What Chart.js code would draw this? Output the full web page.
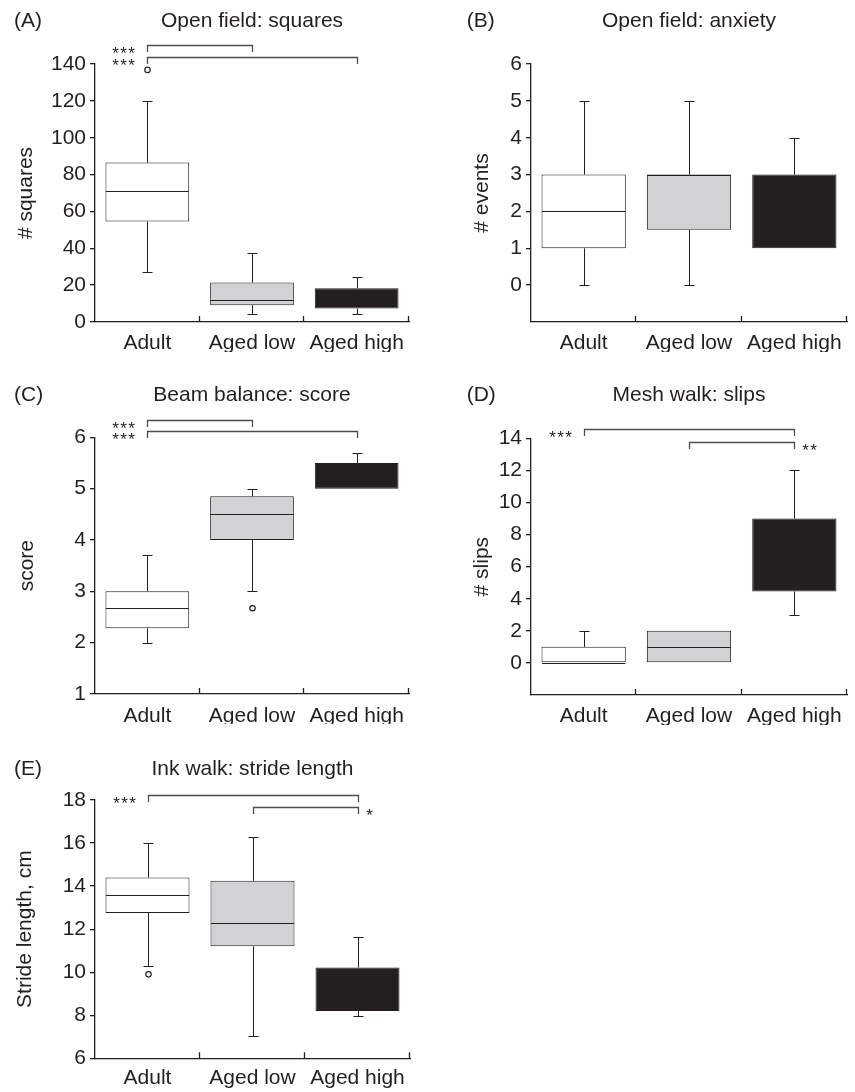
<!DOCTYPE html>
<html>
<head>
<meta charset="utf-8">
<script src="https://cdn.jsdelivr.net/npm/chart.js@4.4.1/dist/chart.umd.min.js"></script>
<style>
html,body{margin:0;padding:0;background:#ffffff;}
#wrap{position:relative;width:855px;height:1092px;overflow:hidden;background:#fff;}
canvas{position:absolute;}
</style>
</head>
<body>
<div id="wrap">
<canvas id="cA" width="427" height="360" style="left:0;top:0;width:427px;height:360px"></canvas>
<canvas id="cB" width="428" height="360" style="left:427px;top:0;width:428px;height:360px"></canvas>
<canvas id="cC" width="427" height="370" style="left:0;top:360px;width:427px;height:370px"></canvas>
<canvas id="cD" width="428" height="370" style="left:427px;top:360px;width:428px;height:370px"></canvas>
<canvas id="cE" width="427" height="362" style="left:0;top:730px;width:427px;height:362px"></canvas>
</div>
<script>
// ---------------- DATA ----------------
const categories = ['Adult', 'Aged low', 'Aged high'];

// (A) Open field: squares
const squaresMin     = [27, 4.2, 4.2];
const squaresQ1      = [54.5, 9.1, 7.3];
const squaresMedian  = [71.3, 11.8, 12];
const squaresQ3      = [86.5, 21.4, 18.3];
const squaresMax     = [120, 37.3, 24.3];
const squaresOutliers = [[136.8], [], []];
const squaresTicks   = [0, 20, 40, 60, 80, 100, 120, 140];
const squaresSig     = [{from: 0, to: 1, level: 150.3, label: '***', side: 'left'},
                        {from: 0, to: 2, level: 144.0, label: '***', side: 'left'}];

// (B) Open field: anxiety
const eventsMin     = [0, 0, 1];
const eventsQ1      = [1, 1.5, 1];
const eventsMedian  = [2, 3, 3];
const eventsQ3      = [3, 3, 3];
const eventsMax     = [5, 5, 4];
const eventsOutliers = [[], [], []];
const eventsTicks   = [0, 1, 2, 3, 4, 5, 6];
const eventsSig     = [];

// (C) Beam balance: score
const scoreMin     = [2, 3, 5];
const scoreQ1      = [2.28, 4, 5];
const scoreMedian  = [2.67, 4.5, 5];
const scoreQ3      = [3, 4.85, 5.5];
const scoreMax     = [3.7, 5, 5.7];
const scoreOutliers = [[], [2.67], []];
const scoreTicks   = [1, 2, 3, 4, 5, 6];
const scoreSig     = [{from: 0, to: 1, level: 6.34, label: '***', side: 'left'},
                      {from: 0, to: 2, level: 6.13, label: '***', side: 'left'}];

// (D) Mesh walk: slips
const slipsMin     = [0, 0, 3];
const slipsQ1      = [0, 0, 4.45];
const slipsMedian  = [0, 1, 6];
const slipsQ3      = [1, 2, 9];
const slipsMax     = [2, 2, 12];
const slipsOutliers = [[], [], []];
const slipsTicks   = [0, 2, 4, 6, 8, 10, 12, 14];
const slipsSig     = [{from: 0, to: 2, level: 14.56, label: '***', side: 'left'},
                      {from: 1, to: 2, level: 13.79, label: '**', side: 'right'}];

// (E) Ink walk: stride length
const strideMin     = [10.3, 7.05, 7.95];
const strideQ1      = [12.75, 11.2, 8.2];
const strideMedian  = [13.6, 12.3, 9];
const strideQ3      = [14.4, 14.25, 10.22];
const strideMax     = [16.0, 16.27, 11.62];
const strideOutliers = [[9.9], [], []];
const strideTicks   = [6, 8, 10, 12, 14, 16, 18];
const strideSig     = [{from: 0, to: 2, level: 18.23, label: '***', side: 'left'},
                       {from: 1, to: 2, level: 17.69, label: '*', side: 'right'}];

// ---------------- STYLE ----------------
const FONT = '"Liberation Sans", Arial, Helvetica, sans-serif';
const FS = 21;
const INK = '#231f20';
const BRACKET = '#4d4d4f';
const boxFills = ['#ffffff', '#d1d2d4', '#231f20'];

Chart.defaults.font.family = FONT;
Chart.defaults.font.size = FS;
Chart.defaults.color = INK;

const panels = [
  {canvas: 'cA', tag: '(A)', title: 'Open field: squares', yTitle: '# squares',
   min: squaresMin, q1: squaresQ1, med: squaresMedian, q3: squaresQ3, max: squaresMax, out: squaresOutliers,
   ticks: squaresTicks, sig: squaresSig, yMin: 0, yMax: 140,
   area: {left: 95, right: 409, top: 64, bottom: 322}, W: 427, H: 360,
   tagX: 14, textBase: 26.7, yTitlePad: 13.4, xPad: 9},
  {canvas: 'cB', tag: '(B)', title: 'Open field: anxiety', yTitle: '# events',
   min: eventsMin, q1: eventsQ1, med: eventsMedian, q3: eventsQ3, max: eventsMax, out: eventsOutliers,
   ticks: eventsTicks, sig: eventsSig, yMin: -1, yMax: 6,
   area: {left: 104, right: 420, top: 64, bottom: 322}, W: 428, H: 360,
   tagX: 39.7, textBase: 26.7, yTitlePad: 42.4, xPad: 9},
  {canvas: 'cC', tag: '(C)', title: 'Beam balance: score', yTitle: 'score',
   min: scoreMin, q1: scoreQ1, med: scoreMedian, q3: scoreQ3, max: scoreMax, out: scoreOutliers,
   ticks: scoreTicks, sig: scoreSig, yMin: 1, yMax: 6,
   area: {left: 95, right: 409, top: 77.3, bottom: 334}, W: 427, H: 370,
   tagX: 14, textBase: 40.7, yTitlePad: 15, xPad: 9.6},
  {canvas: 'cD', tag: '(D)', title: 'Mesh walk: slips', yTitle: '# slips',
   min: slipsMin, q1: slipsQ1, med: slipsMedian, q3: slipsQ3, max: slipsMax, out: slipsOutliers,
   ticks: slipsTicks, sig: slipsSig, yMin: -2, yMax: 14,
   area: {left: 104, right: 420, top: 78.3, bottom: 335}, W: 428, H: 370,
   tagX: 39.7, textBase: 40.7, yTitlePad: 42.4, xPad: 8.6},
  {canvas: 'cE', tag: '(E)', title: 'Ink walk: stride length', yTitle: 'Stride length, cm',
   min: strideMin, q1: strideQ1, med: strideMedian, q3: strideQ3, max: strideMax, out: strideOutliers,
   ticks: strideTicks, sig: strideSig, yMin: 6, yMax: 18,
   area: {left: 95, right: 410, top: 70, bottom: 328.3}, W: 427, H: 362,
   tagX: 14, textBase: 45, yTitlePad: 12.7, xPad: 7.2}
];

function extrasPlugin(p) {
  return {
    id: 'boxExtras',
    afterDatasetsDraw(chart) {
      const {ctx, chartArea: ca, scales: {x, y}} = chart;
      const meta = chart.getDatasetMeta(0);
      ctx.save();
      ctx.strokeStyle = INK;
      ctx.lineWidth = 1;
      p.q1.forEach((q1v, i) => {
        const bar = meta.data[i];
        const cx = Math.round(bar.x) + 0.5;
        const hw = bar.width / 2;
        const yQ1 = y.getPixelForValue(q1v);
        const yQ3 = y.getPixelForValue(p.q3[i]);
        const yLo = Math.round(y.getPixelForValue(p.min[i])) + 0.5;
        const yHi = Math.round(y.getPixelForValue(p.max[i])) + 0.5;
        const yMd = Math.round(y.getPixelForValue(p.med[i])) + 0.5;
        ctx.strokeStyle = INK;
        ctx.beginPath();
        if (p.max[i] > p.q3[i]) {
          ctx.moveTo(cx, yQ3); ctx.lineTo(cx, yHi);
          ctx.moveTo(cx - 5, yHi); ctx.lineTo(cx + 5, yHi);
        }
        if (p.min[i] < q1v) {
          ctx.moveTo(cx, yQ1); ctx.lineTo(cx, yLo);
          ctx.moveTo(cx - 5, yLo); ctx.lineTo(cx + 5, yLo);
        }
        ctx.stroke();
        // median line (a black line on the black box cannot be seen, so it is only stroked on light boxes)
        if (boxFills[i] !== INK) {
          ctx.beginPath();
          ctx.moveTo(bar.x - hw + 0.5, yMd); ctx.lineTo(bar.x + hw - 0.5, yMd);
          ctx.stroke();
        }
        p.out[i].forEach(v => {
          ctx.beginPath();
          ctx.arc(cx, y.getPixelForValue(v), 2.7, 0, Math.PI * 2);
          ctx.fillStyle = '#ffffff';
          ctx.fill();
          ctx.lineWidth = 1.2;
          ctx.strokeStyle = INK;
          ctx.stroke();
          ctx.lineWidth = 1;
        });
      });
      // inward ticks on x axis at category boundaries
      ctx.strokeStyle = INK;
      ctx.lineWidth = 1.3;
      ctx.beginPath();
      const bounds = [];
      for (let i = 0; i < categories.length - 1; i++) {
        bounds.push((x.getPixelForValue(i) + x.getPixelForValue(i + 1)) / 2);
      }
      bounds.push(ca.right);
      bounds.forEach(bx => {
        const px = Math.round(bx) - 0.5;
        ctx.moveTo(px, ca.bottom); ctx.lineTo(px, ca.bottom - 6);
      });
      ctx.stroke();
      // significance brackets
      ctx.strokeStyle = BRACKET;
      ctx.lineWidth = 1.3;
      p.sig.forEach(s => {
        const x1 = Math.round(x.getPixelForValue(s.from)) + 0.5;
        const x2 = Math.round(x.getPixelForValue(s.to)) + 0.5;
        const ly = Math.round(y.getPixelForValue(s.level)) + 0.5;
        ctx.beginPath();
        ctx.moveTo(x1, ly + 6.5); ctx.lineTo(x1, ly); ctx.lineTo(x2, ly); ctx.lineTo(x2, ly + 6.5);
        ctx.stroke();
        ctx.fillStyle = INK;
        ctx.font = '17px ' + FONT;
        ctx.textAlign = 'center';
        ctx.textBaseline = 'alphabetic';
        const n = s.label.length;
        const step = 8;
        const base = ly + 3.5 + 9.8;
        for (let k = 0; k < n; k++) {
          let sx;
          if (s.side === 'left') sx = x1 - 13 - 3 - (n - 1 - k) * step;
          else sx = x2 + 8 + 3 + k * step;
          ctx.fillText('*', sx, base);
        }
      });
      // panel tag and title
      ctx.fillStyle = INK;
      ctx.font = FS + 'px ' + FONT;
      ctx.textBaseline = 'alphabetic';
      ctx.textAlign = 'left';
      ctx.fillText(p.tag, p.tagX, p.textBase);
      ctx.textAlign = 'center';
      ctx.fillText(p.title, (ca.left + ca.right) / 2, p.textBase);
      ctx.restore();
    }
  };
}

panels.forEach(p => {
  const a = p.area;
  const xAxisH = 30;
  new Chart(document.getElementById(p.canvas), {
    type: 'bar',
    data: {
      labels: categories,
      datasets: [{
        data: categories.map((_, i) => [p.q1[i], p.q3[i]]),
        backgroundColor: boxFills,
        borderColor: INK,
        borderWidth: 1,
        borderSkipped: false,
        barPercentage: 0.8,
        categoryPercentage: 1.0
      }]
    },
    options: {
      responsive: false,
      animation: false,
      events: [],
      layout: {padding: {left: 0, top: a.top, right: p.W - a.right, bottom: p.H - a.bottom - xAxisH}},
      plugins: {legend: {display: false}, tooltip: {enabled: false}, title: {display: false}},
      scales: {
        x: {
          type: 'category',
          offset: true,
          afterFit: s => { s.height = xAxisH; },
          grid: {display: false, drawTicks: false, drawOnChartArea: false},
          border: {display: true, color: INK, width: 1.3},
          ticks: {font: {size: FS, family: FONT}, color: INK, padding: p.xPad, maxRotation: 0, autoSkip: false}
        },
        y: {
          type: 'linear',
          min: p.yMin,
          max: p.yMax,
          afterFit: s => { s.width = a.left; },
          afterBuildTicks: s => { s.ticks = p.ticks.map(v => ({value: v})); },
          grid: {display: true, drawOnChartArea: false, drawTicks: true, tickLength: 5, color: INK, lineWidth: 1.3},
          border: {display: true, color: INK, width: 1.3},
          ticks: {font: {size: FS, family: FONT}, color: INK, padding: 4},
          title: {display: true, text: p.yTitle, color: INK, font: {size: FS, family: FONT}, padding: {top: p.yTitlePad, bottom: 0}}
        }
      }
    },
    plugins: [extrasPlugin(p)]
  });
});
</script>
</body>
</html>
